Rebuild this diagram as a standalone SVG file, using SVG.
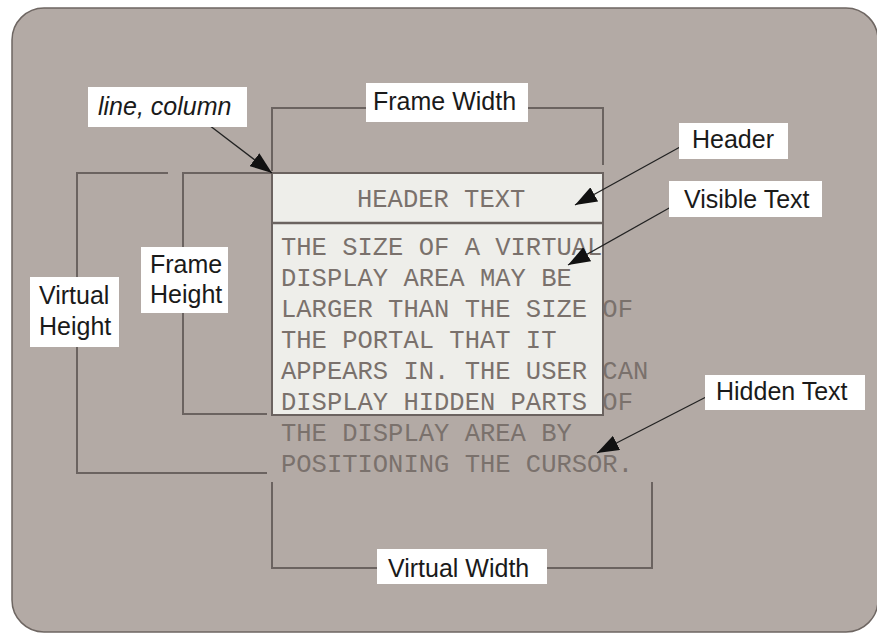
<svg xmlns="http://www.w3.org/2000/svg" width="877" height="633" viewBox="0 0 877 633">
<defs>
<marker id="ah" viewBox="0 0 22 16" refX="22" refY="8" markerWidth="22" markerHeight="16" markerUnits="userSpaceOnUse" orient="auto">
<path d="M0,0 L22,8 L0,16 Z" fill="#111"/>
</marker>
<style>
.bg{fill:#b3aaa5;stroke:#6e6662;stroke-width:1.5}
.dim{fill:none;stroke:#6b6360;stroke-width:2}
.lbl{fill:#fff}
.lt{font-family:"Liberation Sans",Arial,sans-serif;font-size:25px;fill:#1a1a1a}
.mono{font-family:"Liberation Mono","Courier New",monospace;font-size:25.5px;fill:#7a716c}
.arr{fill:none;stroke:#222;stroke-width:1.3;marker-end:url(#ah)}
.frame{fill:#eeeeea;stroke:#6b6360;stroke-width:2}
</style>
</defs>
<rect class="bg" x="12" y="8" width="866" height="624" rx="32"/>

<g id="frame">
<rect class="frame" x="272" y="173" width="331" height="242"/>
<line x1="272" y1="223" x2="603" y2="223" stroke="#6b6360" stroke-width="2.5"/>
<text class="mono" x="357" y="207">HEADER TEXT</text>
</g>

<g id="virtual-text" class="mono">
<text x="281" y="255">THE SIZE OF A VIRTUAL</text>
<text x="281" y="286">DISPLAY AREA MAY BE</text>
<text x="281" y="317">LARGER THAN THE SIZE OF</text>
<text x="281" y="348">THE PORTAL THAT IT</text>
<text x="281" y="379">APPEARS IN. THE USER CAN</text>
<text x="281" y="410">DISPLAY HIDDEN PARTS OF</text>
<text x="281" y="441">THE DISPLAY AREA BY</text>
<text x="281" y="472">POSITIONING THE CURSOR.</text>
</g>

<g id="connectors">
<polyline class="dim" points="366,108 272,108 272,171"/>
<polyline class="dim" points="528,108 603,108 603,165"/>
<polyline class="dim" points="272,173 183,173 183,414 267,414"/>
<polyline class="dim" points="168,173 77,173 77,473 267,473"/>
<polyline class="dim" points="272,482 272,568 377,568"/>
<polyline class="dim" points="547,568 652,568 652,482"/>
<line class="arr" x1="205" y1="122" x2="272" y2="173"/>
<line class="arr" x1="680" y1="147" x2="575" y2="205"/>
<line class="arr" x1="671" y1="207" x2="568" y2="265"/>
<line class="arr" x1="708" y1="396" x2="597" y2="453"/>
</g>

<g id="label-line-column">
<rect class="lbl" x="88" y="87" width="159" height="40"/>
<text class="lt" x="98" y="115" font-style="italic">line, column</text>
</g>
<g id="label-frame-width">
<rect class="lbl" x="366" y="83" width="162" height="39"/>
<text class="lt" x="373" y="110">Frame Width</text>
</g>
<g id="label-header">
<rect class="lbl" x="679" y="123" width="109" height="36"/>
<text class="lt" x="692" y="148">Header</text>
</g>
<g id="label-visible-text">
<rect class="lbl" x="669" y="181" width="153" height="36"/>
<text class="lt" x="684" y="208">Visible Text</text>
</g>
<g id="label-hidden-text">
<rect class="lbl" x="705" y="375" width="160" height="35"/>
<text class="lt" x="716" y="400">Hidden Text</text>
</g>
<g id="label-virtual-width">
<rect class="lbl" x="377" y="549" width="170" height="35"/>
<text class="lt" x="388" y="577">Virtual Width</text>
</g>
<g id="label-frame-height">
<rect class="lbl" x="141" y="247" width="87" height="66"/>
<text class="lt" x="150" y="273">Frame</text>
<text class="lt" x="150" y="303">Height</text>
</g>
<g id="label-virtual-height">
<rect class="lbl" x="30" y="277" width="89" height="70"/>
<text class="lt" x="39" y="304">Virtual</text>
<text class="lt" x="39" y="335">Height</text>
</g>
</svg>
